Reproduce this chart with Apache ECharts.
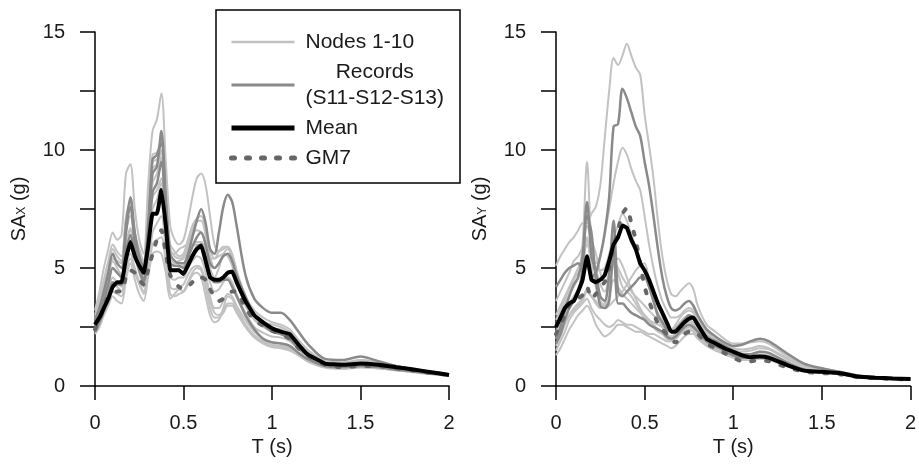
<!DOCTYPE html>
<html>
<head>
<meta charset="utf-8">
<script src="https://cdn.jsdelivr.net/npm/echarts@6/dist/echarts.min.js"></script>
<style>
  html, body { margin: 0; padding: 0; background: #fff; }
  #chart { width: 919px; height: 466px; }
</style>
</head>
<body>
<div id="chart"></div>
<script>
// periods (s)
const T = [0, 0.025, 0.05, 0.075, 0.1, 0.125, 0.15, 0.175, 0.2,
  0.225, 0.25, 0.275, 0.3, 0.325, 0.35, 0.375, 0.4,
  0.425, 0.45, 0.475, 0.5, 0.525, 0.55, 0.575, 0.6,
  0.625, 0.65, 0.675, 0.7, 0.725, 0.75, 0.775, 0.8,
  0.85, 0.9, 0.95, 1.0, 1.05, 1.1, 1.15, 1.2,
  1.3, 1.4, 1.5, 1.6, 1.7, 1.8, 1.9, 2.0]

// ---- X direction ----
const nodesX = [
  [3.2,4.0,5.0,5.8,6.5,6.2,6.4,9.0,9.4, 7.5,6.2,5.6,8.5,10.8,11.3,12.4,9.5, 6.8,6.2,6.0,6.2,7.0,8.0,8.8,9.0, 8.5,7.2,6.0,5.7,5.8,5.9,5.5,4.8, 3.6,3.0,2.7,2.6,2.5,2.3,1.9,1.5, 1.0,0.95,1.1,1.0,0.85,0.7,0.58,0.48],
  [2.9,3.5,4.3,5.0,5.8,5.5,5.3,7.2,7.8, 6.5,5.8,5.3,7.5,9.8,9.9,10.5,8.2, 6.0,5.7,5.5,5.6,6.2,6.8,7.1,7.2, 6.7,5.8,5.4,5.5,5.6,5.5,5.1,4.5, 3.4,2.8,2.5,2.3,2.2,2.0,1.65,1.3, 0.9,0.85,0.95,0.9,0.78,0.66,0.56,0.47],
  [2.2,2.5,3.0,3.4,3.8,3.6,3.5,4.5,5.2, 4.5,3.9,3.6,4.6,5.6,5.7,5.6,4.8, 3.7,3.9,4.1,4.0,4.3,4.7,4.8,4.6, 3.8,3.0,2.7,2.8,3.3,3.8,3.7,3.3, 2.6,2.1,1.85,1.7,1.65,1.55,1.3,1.05, 0.8,0.75,0.8,0.75,0.68,0.6,0.52,0.45],
  [2.5,2.9,3.5,4.0,4.6,4.4,4.2,5.5,6.2, 5.5,4.8,4.2,5.6,7.5,7.9,8.6,6.8, 4.6,4.5,4.6,4.6,5.0,5.3,5.5,5.4, 4.8,3.8,3.3,3.3,3.6,3.9,3.8,3.4, 2.8,2.3,2.0,1.85,1.8,1.7,1.4,1.15, 0.85,0.8,0.85,0.8,0.7,0.62,0.54,0.46],
  [2.7,3.2,3.8,4.6,5.3,5.0,4.7,6.0,6.7, 5.8,5.2,4.6,6.2,8.6,9.0,9.7,7.6, 5.4,5.2,5.3,5.4,5.9,6.4,6.6,6.5, 6.0,5.0,4.6,5.0,5.6,5.8,5.4,4.6, 3.5,2.9,2.6,2.45,2.4,2.2,1.8,1.4, 0.95,0.9,1.0,0.92,0.8,0.67,0.57,0.48],
  [2.4,2.8,3.3,3.9,4.3,4.2,4.0,5.0,5.6, 5.0,4.4,4.0,5.0,6.5,6.9,7.2,5.8, 4.2,4.1,4.2,4.3,4.7,5.0,5.1,5.0, 4.4,3.6,3.1,3.0,3.2,3.5,3.5,3.2, 2.6,2.15,1.9,1.75,1.7,1.6,1.35,1.1, 0.8,0.75,0.8,0.77,0.68,0.6,0.52,0.45],
  [2.8,3.4,4.1,4.9,5.4,5.3,5.2,6.5,7.2, 6.3,5.6,5.1,7.0,9.2,9.4,9.9,7.8, 5.6,5.6,5.8,5.9,6.0,6.0,6.1,6.1, 5.8,5.4,5.4,5.7,5.9,5.9,5.6,4.9, 3.8,3.2,2.9,2.7,2.6,2.4,1.95,1.55, 1.05,1.0,1.1,1.0,0.85,0.7,0.58,0.48],
  [2.3,2.6,3.1,3.6,4.0,3.9,3.8,4.8,5.4, 4.8,4.3,3.9,4.8,6.0,6.2,6.3,5.2, 3.9,3.8,3.9,4.0,4.4,4.8,5.0,4.9, 4.2,3.3,2.9,2.9,3.1,3.4,3.4,3.1, 2.5,2.05,1.8,1.65,1.6,1.5,1.3,1.05, 0.78,0.72,0.78,0.74,0.66,0.58,0.5,0.44],
  [2.6,3.1,3.7,4.4,5.0,4.8,4.6,5.8,6.6, 5.9,5.3,4.8,6.3,8.0,8.3,8.8,7.0, 5.0,4.9,5.0,5.1,5.5,5.9,6.0,5.9, 5.3,4.4,4.0,4.1,4.4,4.6,4.4,3.9, 3.1,2.5,2.25,2.1,2.05,1.9,1.55,1.25, 0.88,0.82,0.9,0.85,0.74,0.64,0.55,0.46],
  [3.0,3.7,4.5,5.3,6.0,5.7,5.5,7.0,7.5, 6.4,5.7,5.2,7.2,9.5,9.6,10.0,7.9, 5.8,5.5,5.4,5.5,6.0,6.6,7.0,7.0, 6.4,5.5,5.0,5.2,5.5,5.6,5.2,4.5, 3.5,2.9,2.6,2.45,2.35,2.15,1.75,1.4, 0.95,0.88,0.98,0.9,0.78,0.66,0.56,0.47]
]
const recordsX = [
  [2.8,3.3,4.0,4.8,5.6,5.2,5.0,6.8,8.0, 6.5,5.5,5.0,6.8,9.0,9.3,10.8,8.0, 5.6,5.3,5.2,5.2,5.6,6.3,7.0,7.5, 6.9,5.8,5.6,6.5,7.6,8.1,7.8,6.8, 4.7,3.7,3.3,3.1,3.1,2.8,2.3,1.8, 1.15,1.1,1.25,1.05,0.85,0.7,0.6,0.5],
  [2.5,3.0,3.6,4.3,5.0,4.8,4.6,6.5,7.6, 6.0,5.0,4.5,6.5,9.6,9.8,10.3,7.5, 5.2,5.1,5.1,5.0,5.4,5.9,6.3,6.5, 6.0,5.2,5.0,5.2,5.5,5.6,5.3,4.7, 3.8,3.0,2.6,2.3,2.2,2.0,1.6,1.3, 0.9,0.85,0.9,0.85,0.75,0.65,0.55,0.47],
  [2.3,2.7,3.2,3.8,4.4,4.3,4.3,5.6,6.4, 5.6,4.9,4.4,5.8,8.2,8.6,9.5,7.0, 5.0,4.9,4.9,4.8,5.1,5.5,5.9,6.0, 5.5,4.7,4.4,4.4,4.5,4.5,4.2,3.8, 3.0,2.4,2.0,1.85,1.8,1.7,1.4,1.15, 0.85,0.8,0.85,0.8,0.7,0.62,0.53,0.45]
]
const meanX = [2.6,2.9,3.3,3.7,4.2,4.4,4.4,5.4,6.1, 5.5,5.1,4.8,5.9,7.3,7.3,8.3,6.8, 4.9,4.9,4.9,4.75,5.1,5.5,5.8,5.95, 5.3,4.6,4.5,4.5,4.6,4.8,4.85,4.4, 3.6,3.0,2.7,2.45,2.3,2.2,1.75,1.35, 0.95,0.9,0.95,0.9,0.8,0.7,0.58,0.47]
const gm7X = [2.4,2.8,3.3,3.8,3.9,4.0,4.0,4.6,4.9, 4.8,4.5,4.3,4.9,5.6,6.2,6.6,5.6, 4.7,4.4,4.2,4.1,4.2,4.4,4.6,4.6, 4.5,4.1,3.8,3.6,3.7,3.9,4.0,4.0, 3.3,2.8,2.55,2.35,2.2,2.0,1.6,1.3, 0.9,0.8,0.85,0.85,0.75,0.65,0.55,0.47]

// ---- Y direction ----
const nodesY = [
  [5.1,5.5,5.8,6.1,6.3,6.6,6.9,6.9,7.3, 7.6,8.5,10.5,12.5,13.9,13.6,14.0,14.5, 14.0,13.5,13.2,11.5,10.2,8.8,7.0,5.5, 4.5,3.9,3.8,4.0,4.2,4.35,4.1,3.4, 2.6,2.3,2.0,1.8,1.8,1.85,1.9,1.8, 1.3,0.9,0.72,0.6,0.45,0.37,0.33,0.31],
  [3.0,3.4,3.8,4.2,4.6,5.0,5.4,6.0,5.5, 5.2,5.5,6.4,7.5,8.6,9.5,10.1,9.8, 9.2,8.7,8.3,7.2,6.0,5.0,4.2,3.6, 3.2,2.9,2.9,3.0,3.2,3.3,3.2,2.8, 2.3,2.0,1.8,1.6,1.55,1.6,1.7,1.6, 1.2,0.85,0.68,0.58,0.43,0.36,0.32,0.3],
  [2.6,3.0,3.5,3.9,4.2,4.6,6.0,9.5,6.0, 5.0,4.3,4.0,4.5,5.3,5.0,4.6,4.3, 4.0,3.8,3.6,3.4,3.2,3.0,2.8,2.6, 2.4,2.3,2.3,2.5,2.7,2.8,2.7,2.5, 2.0,1.8,1.6,1.4,1.3,1.3,1.35,1.3, 0.95,0.68,0.6,0.53,0.4,0.34,0.31,0.29],
  [1.3,1.6,2.0,2.4,2.7,3.0,3.2,3.4,3.1, 2.6,2.3,2.1,2.2,2.4,2.6,2.6,2.5, 2.4,2.3,2.3,2.2,2.1,2.0,1.9,1.8, 1.7,1.6,1.7,1.9,2.1,2.2,2.2,2.0, 1.7,1.5,1.35,1.2,1.1,1.1,1.15,1.1, 0.85,0.62,0.55,0.5,0.38,0.33,0.3,0.28],
  [2.0,2.3,2.7,3.0,3.2,3.4,3.6,4.0,3.8, 3.6,3.4,3.5,4.3,5.2,5.4,5.1,4.6, 4.1,3.7,3.3,3.0,2.8,2.6,2.4,2.3, 2.2,2.1,2.2,2.4,2.6,2.7,2.6,2.4, 1.9,1.7,1.5,1.3,1.2,1.2,1.25,1.2, 0.9,0.65,0.58,0.52,0.39,0.34,0.3,0.28],
  [1.7,2.1,2.6,3.0,3.3,3.5,3.7,4.1,3.8, 3.5,3.3,3.3,3.4,3.6,3.8,4.0,4.3, 4.6,4.9,5.1,5.2,4.5,3.6,2.9,2.5, 2.2,2.1,2.2,2.4,2.5,2.6,2.5,2.3, 1.8,1.6,1.4,1.25,1.15,1.15,1.2,1.15, 0.88,0.63,0.56,0.5,0.38,0.33,0.3,0.28],
  [3.6,4.0,4.4,4.8,5.3,5.5,5.9,6.8,6.2, 5.6,4.8,4.4,4.7,5.5,4.8,4.2,4.0, 3.8,3.5,3.2,3.0,2.8,2.7,2.6,2.5, 2.4,2.4,2.5,2.7,2.9,3.0,2.9,2.6, 2.1,1.9,1.65,1.45,1.35,1.35,1.45,1.4, 1.05,0.72,0.62,0.55,0.41,0.35,0.31,0.29],
  [2.3,2.7,3.1,3.5,3.8,4.1,4.8,6.3,5.0, 4.2,3.6,3.4,3.8,4.5,4.2,3.9,3.7, 3.5,3.3,3.1,2.9,2.7,2.5,2.3,2.2, 2.0,1.9,2.0,2.2,2.4,2.5,2.4,2.2, 1.8,1.6,1.45,1.3,1.2,1.2,1.25,1.2, 0.9,0.65,0.58,0.52,0.39,0.34,0.3,0.28],
  [1.5,1.9,2.3,2.8,3.1,3.3,3.5,3.7,3.3, 3.0,2.8,2.6,2.5,2.6,2.8,2.7,2.6, 2.6,2.5,2.4,2.3,2.2,2.2,2.1,2.0, 1.9,1.9,2.0,2.2,2.3,2.4,2.3,2.1, 1.75,1.55,1.4,1.25,1.15,1.15,1.2,1.15, 0.88,0.63,0.56,0.5,0.38,0.33,0.3,0.28],
  [2.8,3.2,3.7,4.1,4.5,4.8,5.0,5.4,5.1, 4.9,4.9,5.0,5.6,6.3,6.8,7.3,7.0, 6.4,5.9,5.3,4.8,4.2,3.6,3.1,2.8, 2.5,2.4,2.6,2.9,3.1,3.2,3.1,2.8, 2.2,2.0,1.75,1.55,1.45,1.5,1.6,1.55, 1.15,0.8,0.66,0.57,0.42,0.36,0.32,0.3]
]
const recordsY = [
  [4.2,4.5,4.8,5.0,5.1,5.2,5.0,5.2,4.6, 4.8,5.5,6.5,8.0,11.0,11.1,12.6,12.2, 11.6,11.0,10.6,9.5,8.5,7.2,5.8,4.6, 3.8,3.3,3.2,3.3,3.5,3.6,3.4,3.0, 2.4,2.1,1.85,1.7,1.75,1.9,2.0,1.9, 1.4,0.95,0.75,0.6,0.45,0.38,0.34,0.32],
  [2.0,2.5,3.2,3.8,4.3,4.6,5.5,7.8,5.5, 4.8,3.8,3.6,4.8,7.0,4.0,3.8,4.0, 4.2,4.4,4.6,4.6,4.2,3.6,3.0,2.7, 2.4,2.3,2.4,2.6,2.8,3.0,2.9,2.6, 2.1,1.9,1.7,1.5,1.35,1.35,1.45,1.4, 1.0,0.7,0.62,0.55,0.4,0.35,0.32,0.3],
  [1.8,2.2,2.8,3.3,3.6,3.9,5.0,7.2,6.5, 4.5,3.4,3.3,3.6,5.8,3.5,3.5,3.3, 3.1,3.0,2.9,2.8,2.6,2.5,2.4,2.3, 2.1,2.0,2.1,2.3,2.5,2.6,2.5,2.3, 1.9,1.7,1.5,1.3,1.2,1.2,1.25,1.2, 0.9,0.65,0.58,0.52,0.38,0.33,0.3,0.28]
]
const meanY = [2.5,2.9,3.3,3.5,3.6,4.0,4.5,5.5,4.5, 4.4,4.5,4.7,5.3,6.0,6.3,6.8,6.7, 6.2,5.8,5.2,4.9,4.5,4.0,3.5,3.1, 2.7,2.3,2.3,2.5,2.7,2.85,2.9,2.6, 2.0,1.8,1.6,1.45,1.3,1.22,1.25,1.2, 0.9,0.65,0.6,0.55,0.4,0.35,0.32,0.3]
const gm7Y = [2.2,2.6,3.0,3.4,3.6,3.7,3.85,4.2,3.7, 3.9,4.2,4.4,5.0,5.9,6.6,7.3,7.55, 6.9,6.2,5.2,4.2,3.6,3.1,2.65,2.4, 2.2,1.95,1.85,2.0,2.2,2.3,2.3,2.2, 1.8,1.6,1.4,1.2,1.05,1.05,1.1,1.05, 0.8,0.6,0.55,0.5,0.38,0.33,0.3,0.28]

const FONT = 'Liberation Sans, Arial, sans-serif'
const TXT = '#1a1a1a'

const styles = {
  nodes: { color: '#c2c2c2', width: 2 },
  records: { color: '#8a8a8a', width: 2.5 },
  mean: { color: '#000', width: 4 },
  gm7: { color: '#666', width: 4, type: [3, 12], cap: 'round' }
}

function line(name, vals, gi, style, smooth, z) {
  return {
    name: name,
    type: 'line',
    xAxisIndex: gi,
    yAxisIndex: gi,
    data: T.map((t, i) => [t, vals[i]]),
    symbol: 'none',
    smooth: smooth,
    lineStyle: style,
    itemStyle: { color: style.color },
    silent: true,
    z: z
  }
}

function panel(gi, nodes, records, mean, gm7) {
  let out = []
  nodes.forEach(v => out.push(line('Nodes 1-10', v, gi, styles.nodes, 0.3, 2)))
  records.forEach(v => out.push(line('Records', v, gi, styles.records, 0.3, 3)))
  out.push(line('GM7', gm7, gi, styles.gm7, 0.2, 4))
  out.push(line('Mean', mean, gi, styles.mean, 0.1, 5))
  return out
}

function xAxis(gi) {
  return {
    type: 'value', gridIndex: gi, min: 0, max: 2, interval: 0.5,
    name: 'T (s)', nameLocation: 'middle', nameGap: 49,
    nameTextStyle: { fontFamily: FONT, fontSize: 20, color: TXT },
    axisLine: { lineStyle: { color: '#000', width: 1.5 } },
    axisTick: { length: 14, lineStyle: { color: '#000', width: 1.5 } },
    axisLabel: { fontFamily: FONT, fontSize: 20, color: TXT, margin: 27 },
    splitLine: { show: false }
  }
}

function yAxis(gi, sub) {
  return {
    type: 'value', gridIndex: gi, min: 0, max: 15, interval: 2.5,
    name: '{a|SA}{s|' + sub + '}{a| (g)}', nameLocation: 'middle', nameGap: 60, nameRotate: 90,
    nameTextStyle: {
      fontFamily: FONT, color: TXT,
      rich: {
        a: { fontFamily: FONT, fontSize: 20, color: TXT, padding: [0, 0, 6, 0] },
        s: { fontFamily: FONT, fontSize: 12, color: TXT }
      }
    },
    axisLine: { lineStyle: { color: '#000', width: 1.5 } },
    axisTick: { length: 15, lineStyle: { color: '#000', width: 1.5 } },
    axisLabel: {
      fontFamily: FONT, fontSize: 20, color: TXT, margin: 30,
      formatter: v => (v % 5 === 0 ? String(v) : '')
    },
    splitLine: { show: false }
  }
}

const chart = echarts.init(document.getElementById('chart'))
chart.setOption({
  animation: false,
  backgroundColor: '#fff',
  grid: [
    { left: 95, top: 32, width: 354, height: 354 },
    { left: 556, top: 32, width: 355, height: 354 }
  ],
  xAxis: [xAxis(0), xAxis(1)],
  yAxis: [yAxis(0, 'X'), yAxis(1, 'Y')],
  legend: {
    data: [
      { name: 'Nodes 1-10', lineStyle: { width: 2.5 } },
      { name: 'Records', lineStyle: { width: 3 } },
      { name: 'Mean', lineStyle: { width: 5 } },
      { name: 'GM7', lineStyle: { width: 5, type: [3, 12], cap: 'round' } }
    ],
    orient: 'vertical',
    left: 216,
    top: 10,
    padding: [19, 16, 12, 13],
    itemWidth: 63,
    itemHeight: 2,
    itemGap: 4,
    itemStyle: { opacity: 0 },
    borderColor: '#000',
    borderWidth: 1.5,
    selectedMode: false,
    formatter: name => name === 'Records' ? '{c|Records}\n{c|(S11-S12-S13)}' : name,
    textStyle: {
      fontFamily: FONT, fontSize: 21, lineHeight: 26, color: TXT,
      padding: [0, 0, 0, 6],
      rich: { c: { fontFamily: FONT, fontSize: 21, lineHeight: 26, color: TXT, align: 'center' } }
    }
  },
  series: panel(0, nodesX, recordsX, meanX, gm7X).concat(panel(1, nodesY, recordsY, meanY, gm7Y))
})
</script>
</body>
</html>
